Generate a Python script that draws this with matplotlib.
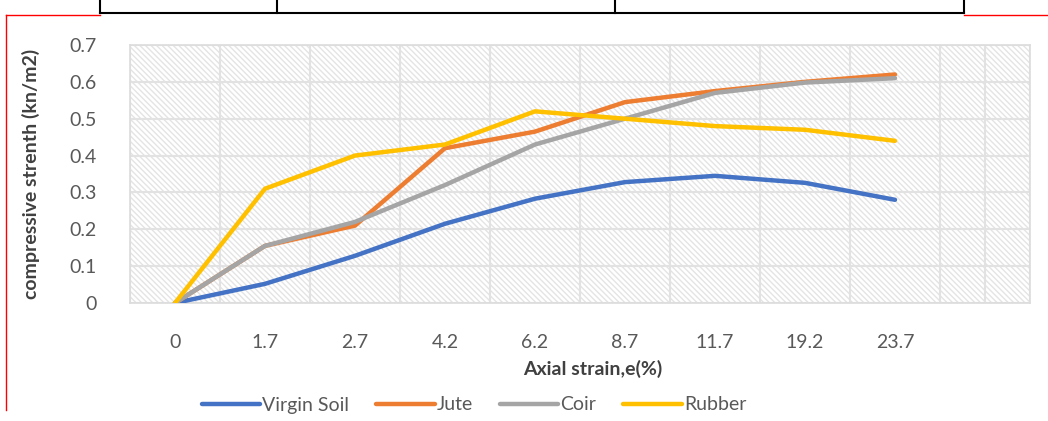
import matplotlib
matplotlib.use("Agg")
import matplotlib.pyplot as plt
from matplotlib.patches import Rectangle
from matplotlib.lines import Line2D

# data
strain = ["0", "1.7", "2.7", "4.2", "6.2", "8.7", "11.7", "19.2", "23.7"]
virgin = [0, 0.052, 0.128, 0.215, 0.283, 0.328, 0.345, 0.326, 0.280]
jute = [0, 0.155, 0.210, 0.420, 0.465, 0.545, 0.575, 0.600, 0.620]
coir = [0, 0.155, 0.220, 0.320, 0.430, 0.500, 0.570, 0.598, 0.610]
rubber = [0, 0.310, 0.400, 0.430, 0.520, 0.500, 0.480, 0.470, 0.440]
series = ["Virgin Soil", "Jute", "Coir", "Rubber"]
colors = ["#4472C4", "#ED7D31", "#A5A5A5", "#FFC000"]

plt.rcParams['font.family'] = ['Lato', 'DejaVu Sans']
plt.rcParams['hatch.linewidth'] = 1.0

W, H = 1048, 421
fig = plt.figure(figsize=(W / 100, H / 100), dpi=100)
ax = fig.add_axes([130 / W, 1 - 303 / H, 900 / W, 258 / H])

# hatched plot area
ax.add_patch(Rectangle((0, 0), 1, 1, transform=ax.transAxes, facecolor="white",
                       edgecolor="#e4e4e4", hatch="\\\\\\\\\\\\", linewidth=0, zorder=0))
ax.set_facecolor("white")

x = list(range(len(strain)))
for vals, name, c in zip([virgin, jute, coir, rubber], series, colors):
    ax.plot(x, vals, color=c, lw=3.2, label=name, solid_capstyle="round", zorder=3)

ax.set_xlim(-0.5, 9.5)
ax.set_ylim(0, 0.7)
ax.set_xticks(x)
ax.set_xticklabels(strain)
ax.set_xticks([i * 0.5 - 0.5 for i in range(21)], minor=True)
ax.set_yticks([i / 10 for i in range(8)])
ax.set_yticklabels(["0"] + [f"{i / 10:.1f}" for i in range(1, 8)])
ax.grid(True, which="minor", axis="x", color="#e2e2e2", lw=1.5, zorder=1)
ax.grid(True, which="major", axis="y", color="#e2e2e2", lw=1.5, zorder=1)
ax.set_axisbelow(True)
ax.tick_params(which="both", length=0)
ax.tick_params(axis="x", pad=22, labelsize=14, colors="#595959")
ax.tick_params(axis="y", pad=24, labelsize=14, colors="#595959")
for s in ax.spines.values():
    s.set_color("#dcdcdc")
    s.set_linewidth(1.2)

ax.set_xlabel("Axial strain,e(%)", fontsize=14, fontweight="bold", color="#404040")
ax.xaxis.set_label_coords(463 / 900, -57 / 258)
ax.set_ylabel("compressive strenth (kn/m2)", fontsize=14, fontweight="bold", color="#404040")
ax.yaxis.set_label_coords(-90 / 900, 0.5)

handles = [Line2D([], [], color=c, lw=3.2, solid_capstyle="round") for c in colors]
fig.legend(handles, series, loc="center", bbox_to_anchor=(474 / W, 1 - 405 / H), ncol=4,
           frameon=False, fontsize=14, handlelength=3.0, handletextpad=0.1,
           columnspacing=1.4, labelcolor="#595959")

# page decorations: table edge and red margin line
fig.add_artist(Line2D([100 / W, 964 / W], [1 - 13 / H, 1 - 13 / H], color="black", lw=1.5))
for xv in [100, 277, 615, 964]:
    fig.add_artist(Line2D([xv / W, xv / W], [1, 1 - 13 / H], color="black", lw=1.5))
fig.add_artist(Line2D([6 / W, 100 / W], [1 - 15 / H, 1 - 15 / H], color="red", lw=1))
fig.add_artist(Line2D([964 / W, 1], [1 - 15 / H, 1 - 15 / H], color="red", lw=1))
fig.add_artist(Line2D([6 / W, 6 / W], [1 - 15 / H, 1 - 410 / H], color="red", lw=1))

fig.savefig("out.png", dpi=100)
